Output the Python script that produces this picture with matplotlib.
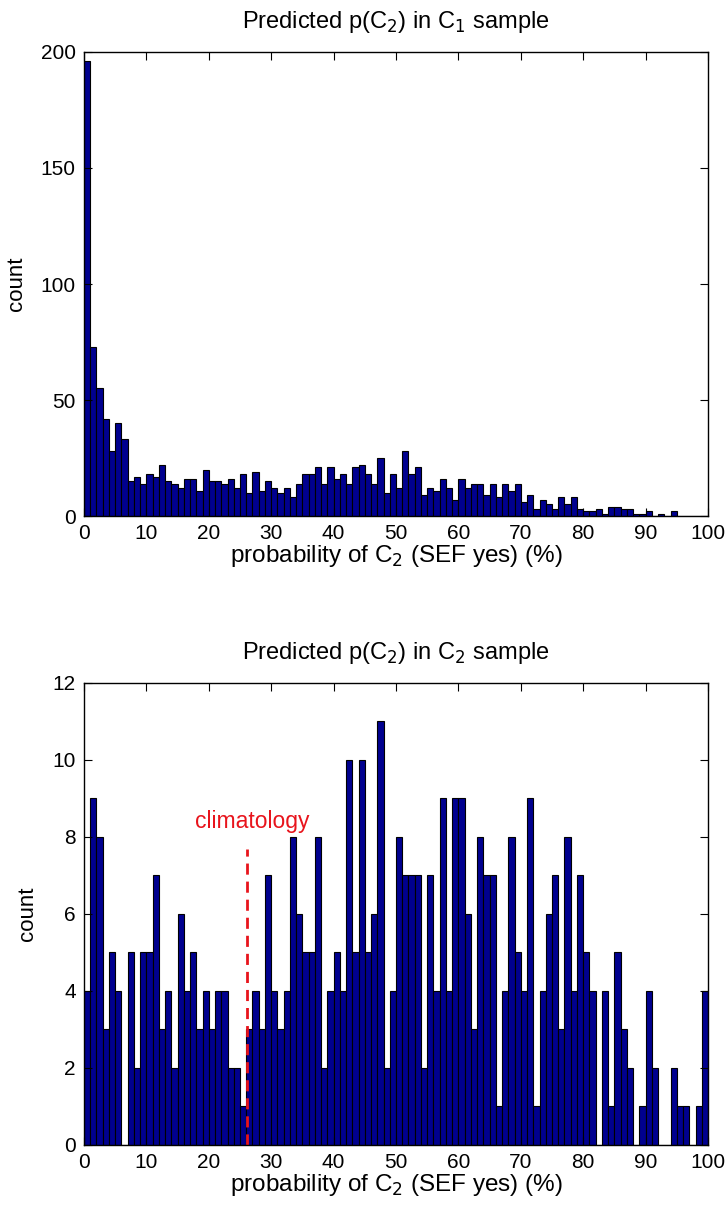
import numpy as np
import matplotlib.pyplot as plt

plt.rcParams['font.family'] = ['Liberation Sans', 'DejaVu Sans']

# 1% bins, 0..100
bin_edges = np.arange(0, 101, 1)
counts_c1 = [196, 73, 55, 42, 28, 40, 33, 15, 17, 14,
             18, 17, 22, 15, 14, 12, 16, 16, 11, 20,
             15, 15, 14, 16, 12, 18, 10, 19, 11, 15,
             12, 10, 12, 8, 14, 18, 18, 21, 14, 21,
             16, 18, 14, 21, 22, 18, 14, 25, 10, 18,
             12, 28, 18, 21, 9, 12, 11, 16, 12, 7,
             16, 12, 14, 14, 9, 14, 8, 14, 11, 14,
             6, 9, 3, 7, 5, 3, 8, 5, 8, 3,
             2, 2, 3, 1, 4, 4, 3, 3, 1, 1,
             2, 0, 1, 0, 2, 0, 0, 0, 0, 0]
counts_c2 = [4, 9, 8, 3, 5, 4, 0, 5, 2, 5,
             5, 7, 3, 4, 2, 6, 4, 5, 3, 4,
             3, 4, 4, 2, 2, 1, 3, 4, 3, 7,
             4, 3, 4, 8, 6, 5, 5, 8, 2, 4,
             5, 4, 10, 5, 10, 5, 6, 11, 2, 4,
             8, 7, 7, 7, 2, 7, 4, 9, 4, 9,
             9, 6, 3, 8, 7, 7, 1, 4, 8, 5,
             4, 9, 1, 4, 6, 7, 3, 8, 4, 7,
             5, 4, 0, 4, 1, 5, 3, 2, 0, 1,
             4, 2, 0, 0, 2, 1, 1, 0, 1, 4]
climatology = 26.2

BAR = '#00008f'
RED = '#e8141c'
xlab = r'probability of C$_2$ (SEF yes) (%)'

fig = plt.figure(figsize=(7.28, 12.06), dpi=100)
ax1 = fig.add_axes([0.1154, 0.5721, 0.8571, 0.3848])
ax2 = fig.add_axes([0.1154, 0.0506, 0.8571, 0.3831])

def style(ax, ymax, ystep):
    ax.set_xlim(0, 100)
    ax.set_ylim(0, ymax)
    ax.set_xticks(np.arange(0, 101, 10))
    ax.set_yticks(np.arange(0, ymax + 1, ystep))
    ax.tick_params(direction='in', top=True, right=True, length=6, labelsize=15, pad=6)
    for s in ax.spines.values():
        s.set_linewidth(1.0)
    ax.set_xlabel(xlab, fontsize=17.5, labelpad=0)
    ax.set_ylabel('count', fontsize=16, labelpad=10)

ax1.bar(bin_edges[:-1], counts_c1, width=1, align='edge', color=BAR, edgecolor='black', linewidth=0.8)
style(ax1, 200, 50)
ax1.set_title(r'Predicted p(C$_2$) in C$_1$ sample', fontsize=17, pad=17)

ax2.bar(bin_edges[:-1], counts_c2, width=1, align='edge', color=BAR, edgecolor='black', linewidth=0.8)
style(ax2, 12, 2)
ax2.set_title(r'Predicted p(C$_2$) in C$_2$ sample', fontsize=17, pad=17)
ax2.plot([climatology, climatology], [0, 7.7], color=RED, linestyle='--', linewidth=2, dashes=(4, 2.5))
ax2.text(26.9, 8.1, 'climatology', color=RED, fontsize=16.5, ha='center', va='bottom')

fig.savefig('out.png', dpi=100)
